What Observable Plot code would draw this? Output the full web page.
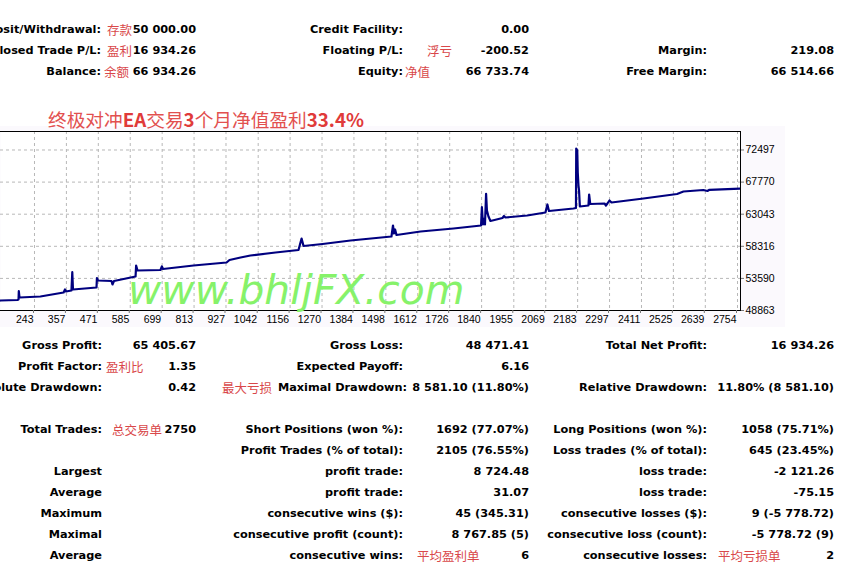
<!DOCTYPE html>
<html>
<head>
<meta charset="utf-8">
<script src="https://cdn.jsdelivr.net/npm/d3@7"></script>
<script src="https://cdn.jsdelivr.net/npm/@observablehq/plot@0.6"></script>
<style>
  html, body { margin: 0; padding: 0; background: #ffffff; }
  #root { position: relative; width: 843px; height: 567px; overflow: hidden; background: #ffffff; }
  .t { position: absolute; white-space: nowrap; line-height: 16px; height: 16px;
       font-family: "DejaVu Sans", Verdana, sans-serif; font-weight: bold; font-size: 11.3px; color: #000; }
  .n { position: absolute; white-space: nowrap; line-height: 16px; height: 16px;
       font-family: "Noto Sans CJK SC", sans-serif; font-weight: 400; font-size: 12.5px; color: #d9484a; }
  #chartbg { position: absolute; left: 0; top: 126px; width: 785px; height: 201px; background: #fbf9fd; }
  #chart { position: absolute; left: 0; top: 125px; }
  #title { position: absolute; left: 48px; top: 107px; line-height: 24px; white-space: nowrap;
           font-family: "Noto Sans CJK SC", sans-serif; font-size: 18.7px; color: #e2504f; font-weight: 400; }
  #title b { font-weight: 700; color: #e03a3a; }
  #wm { position: absolute; left: 128px; top: 270px; line-height: 41px; white-space: nowrap;
        font-family: "DejaVu Sans", sans-serif; font-style: italic; font-size: 40.8px; color: #86f26a; }
</style>
</head>
<body>
<div id="root">
  <div id="chartbg"></div>
  <div id="chart"></div>
  <div id="title">终极对冲<b>EA</b>交易<b>3</b>个月净值盈利<b>33.4%</b></div>
  <div id="wm">www.bhljFX.com</div>
</div>
<script>
// ---------- Chart data (trade number vs. equity) ----------
const trades = [0, 121.6, 182, 186, 187, 189.5, 264, 347, 352, 355.5, 375, 378, 380.5, 464.5, 466, 470,
  518, 521.6, 527, 604, 606, 611, 693, 698, 702, 811, 929, 939.5, 979, 1014.5, 1104, 1186, 1197, 1204,
  1272, 1372, 1518, 1523.5, 1527, 1531, 1536, 1622, 1739.5, 1838, 1841, 1845, 1850, 1852, 1856, 1859,
  1864.5, 1871.6, 1914.5, 1920, 1925, 2002.7, 2068, 2075, 2080.5, 2168, 2177, 2178, 2181.6, 2183.4,
  2186, 2188, 2191, 2221.6, 2224, 2228, 2279, 2284, 2289.4, 2296.6, 2304, 2418, 2538, 2561, 2632,
  2646.6, 2653.8, 2764.5];
const equity = [50000, 50336, 50409, 50483, 51705, 50777, 50925, 51514, 51955, 51661, 51808, 54503, 51955, 52250, 53649, 53281,
  53207, 52692, 53207, 53870, 55489, 54753, 54827, 55342, 54974, 55489, 55931, 56299, 56667, 56962, 57404, 57771, 59465, 58361,
  58655, 59171, 59760, 61379, 60201, 60790, 59981, 60496, 60938, 61379, 64074, 61526, 62410, 61526, 66047, 63588,
  62705, 62042, 62484, 62778, 62558, 62852, 63294, 64472, 63514, 63883, 63956, 72700, 72423, 69184,
  67269, 66533, 64177, 64324, 65944, 64545, 64619, 64324, 64619, 65061, 64766, 65355, 66017, 66385, 66606,
  66459, 66636, 66820];
const xTickValues = [243, 357, 471, 585, 699, 813, 927, 1042, 1156, 1270, 1384, 1498, 1612, 1726,
  1840, 1955, 2069, 2183, 2297, 2411, 2525, 2639, 2754];
const yTickValues = [48863, 53590, 58316, 63043, 67770, 72497];
const xDomain = [121.6, 2764.7];
const yDomain = [48863, 75220];

// ---------- Account summary (top) ----------
const accLabels1 = ["Deposit/Withdrawal:", "Closed Trade P/L:", "Balance:"];
const accNotes1 = ["存款", "盈利", "余额"];
const accValues1 = ["50 000.00", "16 934.26", "66 934.26"];
const accLabels2 = ["Credit Facility:", "Floating P/L:", "Equity:"];
const accNotes2 = ["", "浮亏", "净值"];
const accValues2 = ["0.00", "-200.52", "66 733.74"];
const accLabels3 = ["", "Margin:", "Free Margin:"];
const accValues3 = ["", "219.08", "66 514.66"];

// ---------- Report statistics (bottom) ----------
const statLabels1 = ["Gross Profit:", "Profit Factor:", "Absolute Drawdown:", "", "Total Trades:", "",
  "Largest", "Average", "Maximum", "Maximal", "Average"];
const statNotes1 = ["", "盈利比", "", "", "总交易单", "", "", "", "", "", ""];
const statValues1 = ["65 405.67", "1.35", "0.42", "", "2750", "", "", "", "", "", ""];
const statPreNotes2 = ["", "", "最大亏损", "", "", "", "", "", "", "", ""];
const statLabels2 = ["Gross Loss:", "Expected Payoff:", "Maximal Drawdown:", "", "Short Positions (won %):",
  "Profit Trades (% of total):", "profit trade:", "profit trade:", "consecutive wins ($):",
  "consecutive profit (count):", "consecutive wins:"];
const statNotes2 = ["", "", "", "", "", "", "", "", "", "", "平均盈利单"];
const statValues2 = ["48 471.41", "6.16", "8 581.10 (11.80%)", "", "1692 (77.07%)", "2105 (76.55%)",
  "8 724.48", "31.07", "45 (345.31)", "8 767.85 (5)", "6"];
const statLabels3 = ["Total Net Profit:", "", "Relative Drawdown:", "", "Long Positions (won %):",
  "Loss trades (% of total):", "loss trade:", "loss trade:", "consecutive losses ($):",
  "consecutive loss (count):", "consecutive losses:"];
const statNotes3 = ["", "", "", "", "", "", "", "", "", "", "平均亏损单"];
const statValues3 = ["16 934.26", "", "11.80% (8 581.10)", "", "1058 (75.71%)", "645 (23.45%)",
  "-2 121.26", "-75.15", "9 (-5 778.72)", "-5 778.72 (9)", "2"];

// ---------- Layout ----------
const W = 843;
const root = document.getElementById("root");
function put(text, x, y, align, cls) {
  if (!text) return;
  const d = document.createElement("div");
  d.className = cls;
  d.textContent = text;
  d.style.top = (y - 8) + "px";
  if (align === "right") d.style.right = (W - x) + "px"; else d.style.left = x + "px";
  root.appendChild(d);
}

const topRowsY = [30, 51, 72];
const note1Left = [107, 107, 104];
const note2Left = [0, 427, 405];
topRowsY.forEach((y, i) => {
  put(accLabels1[i], 101, y, "right", "t");
  put(accNotes1[i], note1Left[i], y, "left", "n");
  put(accValues1[i], 196, y, "right", "t");
  put(accLabels2[i], 403, y, "right", "t");
  put(accNotes2[i], note2Left[i], y, "left", "n");
  put(accValues2[i], 529, y, "right", "t");
  put(accLabels3[i], 707, y, "right", "t");
  put(accValues3[i], 834, y, "right", "t");
});

const statRowsY = [346, 367, 388, 409, 430, 451, 472, 493, 514, 535, 556];
const statNote1Left = [0, 106, 0, 0, 112, 0, 0, 0, 0, 0, 0];
statRowsY.forEach((y, i) => {
  put(statLabels1[i], 102, y, "right", "t");
  put(statNotes1[i], statNote1Left[i], y, "left", "n");
  put(statValues1[i], 196, y, "right", "t");
  put(statPreNotes2[i], 222, y, "left", "n");
  put(statLabels2[i], i === 2 ? 407 : 403, y, "right", "t");
  put(statNotes2[i], 417, y, "left", "n");
  put(statValues2[i], 529, y, "right", "t");
  put(statLabels3[i], 707, y, "right", "t");
  put(statNotes3[i], 718, y, "left", "n");
  put(statValues3[i], 834, y, "right", "t");
});

// ---------- Chart ----------
const data = trades.map((t, i) => ({trade: t, equity: equity[i]}));
const gridStyle = {stroke: "#b8b8b8", strokeOpacity: 1, strokeDasharray: "3,3", strokeWidth: 1};
const chart = Plot.plot({
  width: 790,
  height: 202,
  marginTop: 6,
  marginBottom: 17,
  marginLeft: 0,
  marginRight: 50,
  style: {background: "transparent", fontFamily: "'Liberation Sans Narrow', 'Liberation Sans', sans-serif", fontSize: "10.5px", color: "#000"},
  x: {domain: xDomain, range: [0, 740], ticks: xTickValues},
  y: {domain: yDomain, ticks: yTickValues},
  marks: [
    Plot.frame({fill: "#ffffff", stroke: null}),
    Plot.gridX(xTickValues, gridStyle),
    Plot.gridY(yTickValues.slice(1), gridStyle),
    Plot.line(data, {x: "trade", y: "equity", stroke: "#00007f", strokeWidth: 2.2, clip: true, curve: "linear"}),
    Plot.frame({anchor: "top", stroke: "#000"}),
    Plot.frame({anchor: "right", stroke: "#000"}),
    Plot.frame({anchor: "bottom", stroke: "#000"}),
    Plot.axisX(xTickValues, {anchor: "bottom", tickSize: 3, tickPadding: 2, textAnchor: "end", dx: -1, tickFormat: d => String(d), label: null, stroke: "#777"}),
    Plot.axisY(yTickValues, {anchor: "right", tickSize: 3, tickPadding: 2, textAnchor: "start", tickFormat: d => String(d), label: null, stroke: "#777"})
  ]
});
document.getElementById("chart").appendChild(chart);
</script>
</body>
</html>
